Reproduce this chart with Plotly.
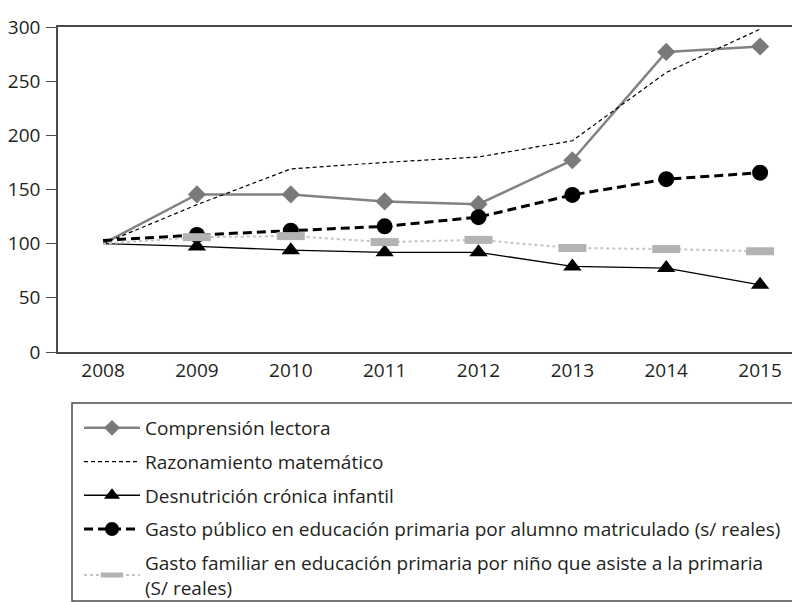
import plotly.graph_objects as go

years = [2008, 2009, 2010, 2011, 2012, 2013, 2014, 2015]
comprension = [100, 145.5, 145.5, 139, 136.5, 177, 277, 282]
razonamiento = [100, 136, 169, 175, 180, 195, 258, 298]
desnutricion = [100, 97.5, 94, 92, 92, 79, 77.5, 62]
gasto_publico = [103, 108, 112, 116, 124.5, 145, 159.5, 165.5]
gasto_familiar = [100, 106, 107, 101.5, 103.5, 96, 95, 93]

names = [
    "Comprensión lectora",
    "Razonamiento matemático",
    "Desnutrición crónica infantil",
    "Gasto público en educación primaria por alumno matriculado (s/ reales)",
    "Gasto familiar en educación primaria por niño que asiste a la primaria<br>(S/ reales)",
]

FONT = "Open Sans"
TXT = "#231f20"
FS = 19

def sizes(n, s):
    return [0] + [s] * (n - 1)

fig = go.Figure()
fig.add_trace(go.Scatter(
    x=years, y=comprension, name=names[0], mode="lines+markers", legendgroup="a",
    line=dict(color="#828282", width=2.5),
    marker=dict(symbol="diamond", size=sizes(len(years), 14), color="#7a7a7a",
                opacity=1, line=dict(width=0)),
))
fig.add_trace(go.Scatter(
    x=years, y=razonamiento, name=names[1], mode="lines", legendgroup="b",
    line=dict(color="#000000", width=1.2, dash="4px,3px"),
))
fig.add_trace(go.Scatter(
    x=years, y=desnutricion, name=names[2], mode="lines+markers", legendgroup="c",
    line=dict(color="#000000", width=1.3),
    marker=dict(symbol="triangle-up", size=sizes(len(years), 16), color="#000000",
                opacity=1, line=dict(width=0)),
))
fig.add_trace(go.Scatter(
    x=years, y=gasto_publico, name=names[3], mode="lines+markers", legendgroup="d",
    line=dict(color="#000000", width=3, dash="9px,5px"),
    marker=dict(symbol="circle", size=sizes(len(years), 16), color="#000000",
                opacity=1, line=dict(width=0)),
))
fig.add_trace(go.Scatter(
    x=years, y=gasto_familiar, name=names[4], mode="lines+markers", legendgroup="e",
    line=dict(color="#c4c4c4", width=2, dash="dot"),
    marker=dict(symbol="line-ew", size=sizes(len(years), 20), color="#b3b3b3",
                opacity=1, line=dict(color="#b3b3b3", width=8)),
))

L, T, B = 58, 27, 250
W, H = 792, 602
pw = W - L
ph = H - T - B

fig.update_layout(
    width=W, height=H,
    margin=dict(l=L, r=0, t=T, b=B, autoexpand=False),
    paper_bgcolor="white", plot_bgcolor="white",
    font=dict(family=FONT, size=FS, color=TXT),
    showlegend=True,
    legend=dict(
        x=(79 - L) / pw, xanchor="left",
        y=(H - B - 409) / ph, yanchor="top",
        bgcolor="rgba(0,0,0,0)", borderwidth=0,
        font=dict(family=FONT, size=FS, color=TXT),
        itemwidth=56, tracegroupgap=6,
        traceorder="grouped",
    ),
    xaxis=dict(
        range=[2007.52, 2015.34], tickvals=years, ticktext=[str(y) for y in years],
        showgrid=False, zeroline=False, showline=True, linecolor="#4a4a4a", linewidth=1.5,
        mirror=True, ticks="", tickfont=dict(size=FS),
    ),
    yaxis=dict(
        range=[0, 300], tickvals=[0, 50, 100, 150, 200, 250, 300],
        showgrid=False, zeroline=False, showline=True, linecolor="#4a4a4a", linewidth=1.5,
        ticks="outside", ticklen=10, tickcolor="#4a4a4a", tickwidth=1.2,
        tickfont=dict(size=FS), ticklabelstandoff=2,
    ),
    shapes=[dict(
        type="rect", xref="paper", yref="paper",
        x0=(72 - L) / pw, x1=1.05,
        y0=(H - B - 601) / ph, y1=(H - B - 403) / ph,
        line=dict(color="#4a4a4a", width=1.5), fillcolor="rgba(0,0,0,0)",
        layer="below",
    )],
)

fig.write_html("out.html", config={"displayModeBar": False},
               post_script="document.body.style.margin='0px';")
